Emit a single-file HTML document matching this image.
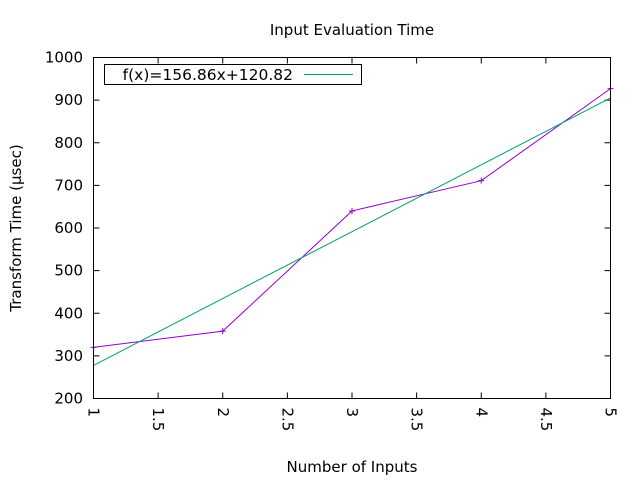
<!DOCTYPE html>
<html><head><meta charset="utf-8"><style>body{margin:0;background:#fff}svg{display:block;font-family:"DejaVu Sans","Liberation Sans",sans-serif}</style></head>
<body>
<svg id="chart" width="640" height="480" viewBox="0 0 640 480">
<rect width="640" height="480" fill="#fff"/>
<text x="352" y="35" text-anchor="middle" font-size="15">Input Evaluation Time</text>
<text x="352" y="472" text-anchor="middle" font-size="15">Number of Inputs</text>
<text transform="translate(21,228) rotate(-90)" text-anchor="middle" font-size="15">Transform Time (µsec)</text>
<g id="ticks"></g>
<g id="marks"></g>
<rect x="93.5" y="57.5" width="517" height="341" fill="none" stroke="#000"/>
<g>
<rect x="104.5" y="64.5" width="257" height="20" fill="#fff" stroke="#000"/>
<text x="293" y="80" text-anchor="end" font-size="15.5">f(x)=156.86x+120.82</text>
<line x1="304" y1="74.5" x2="353" y2="74.5" stroke="#009e73"/>
</g>
</svg>
<script>
const xs = [1, 2, 3, 4, 5];
const times = [320, 358, 640, 711, 927];
const fitSlope = 156.86;
const fitIntercept = 120.82;
const xTicks = ["1", "1.5", "2", "2.5", "3", "3.5", "4", "4.5", "5"];
const yTicks = ["200", "300", "400", "500", "600", "700", "800", "900", "1000"];
const X0=93.5,X1=610.5,Y0=398.5,Y1=57.5;
const sx=v=>X0+(v-1)/4*(X1-X0);
const sy=v=>Y0-(v-200)/800*(Y0-Y1);
const NS="http://www.w3.org/2000/svg";
const tg=document.getElementById('ticks'), mg=document.getElementById('marks');
function mk(t,a,p){const e=document.createElementNS(NS,t);for(const k in a)e.setAttribute(k,a[k]);p.appendChild(e);return e;}
xTicks.forEach(t=>{const x=sx(parseFloat(t));
 const l=mk('path',{d:`M${x},${Y0}v-6M${x},${Y1}v6`,stroke:'#000'},tg);
 
 
 const tx=mk('text',{transform:`translate(${x-5},${Y0+9}) rotate(90)`,'font-size':'15'},tg);
 tx.textContent=t;
 
 
});
yTicks.forEach(t=>{const y=sy(parseFloat(t));
 const l=mk('path',{d:`M${X0},${y}h6M${X1},${y}h-6`,stroke:'#000'},tg);
 
 
 const tx=mk('text',{x:83,y:y+5,'text-anchor':'end','font-size':'15'},tg);
 tx.textContent=t;
 
 
});
const d=xs.map((x,i)=>(i?'L':'M')+sx(x)+','+sy(times[i])).join('');
const p=mk('path',{d:d,fill:'none',stroke:'#9400d3'},mg);


xs.forEach((x,i)=>{const cx=sx(x),cy=sy(times[i]);
 const m=mk('path',{d:`M${cx-3},${cy}h6M${cx},${cy-3}v6`,stroke:'#9400d3'},mg);
 
 
});
const fl=mk('line',{x1:sx(1),y1:sy(fitSlope*1+fitIntercept),x2:sx(5),y2:sy(fitSlope*5+fitIntercept),stroke:'#009e73'},mg);


</script>
</body></html>
